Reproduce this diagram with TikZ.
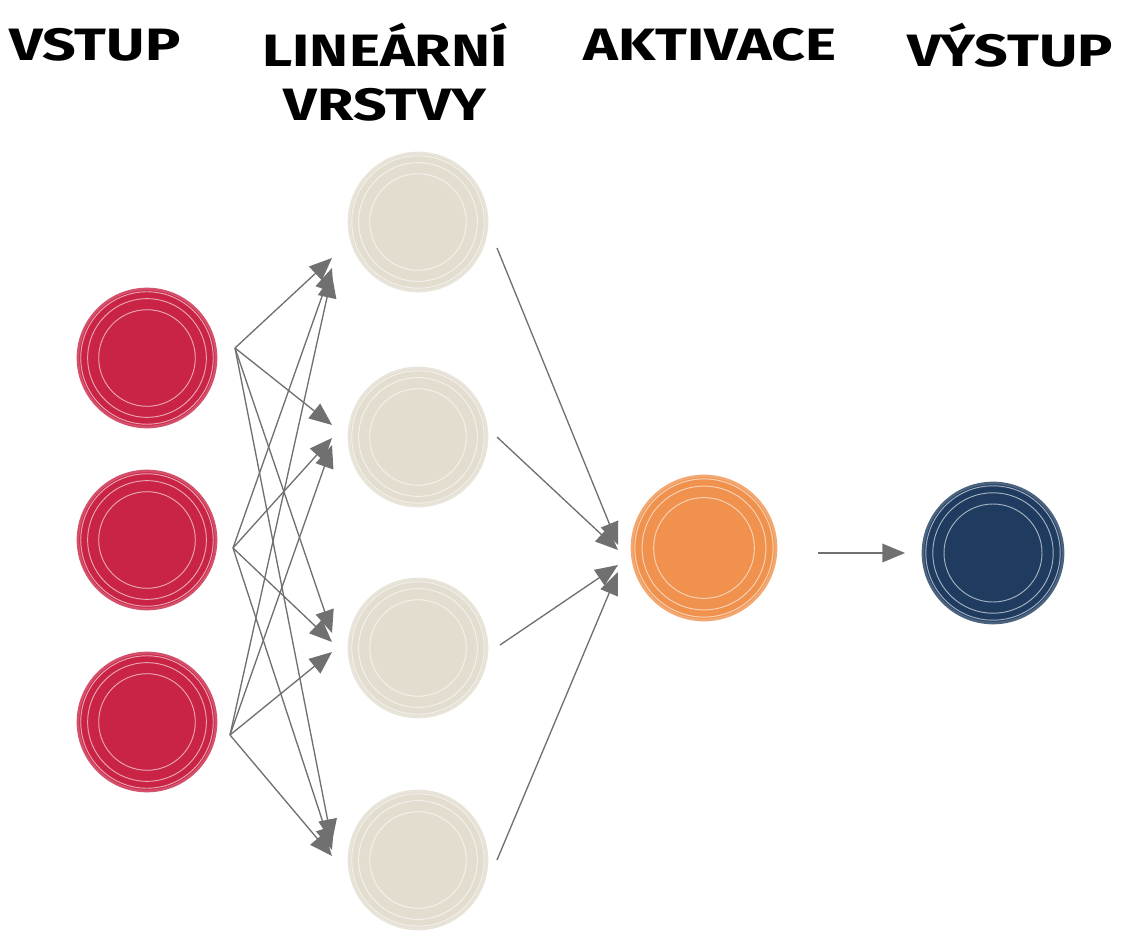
\documentclass[tikz,border=0pt]{standalone}
\usepackage{fontspec}
\setmainfont{Fira Sans}
\usetikzlibrary{arrows.meta}
\definecolor{cred}{HTML}{C92345}
\definecolor{cbeige}{HTML}{E2DDCF}
\definecolor{corange}{HTML}{F0924E}
\definecolor{cnavy}{HTML}{1F3C60}
\definecolor{cgray}{HTML}{707070}
\begin{document}
\begin{tikzpicture}[x=0.75pt,y=-0.75pt,
  neuron/.style={circle,minimum size=#1,inner sep=0pt},
  arr/.style={draw=cgray,line width=1pt,-{Triangle[length=17pt,width=14pt]}},
  lbl/.style={font=\fontsize{34}{40}\selectfont\bfseries,text=black,xscale=1.3,transform shape}]
\useasboundingbox (0,0) rectangle (1128,944);
\newcommand{\scrib}[4]{% name, pos, color, size(px)
  \node[neuron=#4*0.75pt,fill=#3,draw=#3!80!white,line width=2pt] (#1) at #2 {};
  \foreach \r in {0.96,0.86,0.7}{\draw[white,opacity=0.6,line width=0.7pt] #2 circle ({#4*\r/2});}
}
\scrib{i1}{(147,358)}{cred}{138}
\scrib{i2}{(147,540)}{cred}{138}
\scrib{i3}{(147,722)}{cred}{138}
\scrib{h1}{(418,222)}{cbeige}{138}
\scrib{h2}{(418,437)}{cbeige}{138}
\scrib{h3}{(418,648)}{cbeige}{138}
\scrib{h4}{(418,860)}{cbeige}{138}
\scrib{a}{(704,548)}{corange}{144}
\scrib{o}{(993,553)}{cnavy}{140}
\node[lbl] (t1) at (95,45) {VSTUP};
\node[lbl] (t2) at (385,45) {LINEÁRNÍ};
\node[lbl] (t3) at (385,105) {VRSTVY};
\node[lbl] (t4) at (710,45) {AKTIVACE};
\node[lbl] (t5) at (1010,45) {VÝSTUP};
\coordinate (s1) at (235,348);
\coordinate (s2) at (233,548);
\coordinate (s3) at (230,735);
\coordinate (e1a) at (332,258); \coordinate (e1b) at (332,268); \coordinate (e1c) at (332,275);
\coordinate (e2a) at (332,425); \coordinate (e2b) at (332,438); \coordinate (e2c) at (332,445);
\coordinate (e3a) at (332,633); \coordinate (e3b) at (332,642); \coordinate (e3c) at (332,652);
\coordinate (e4a) at (332,842); \coordinate (e4b) at (332,850); \coordinate (e4c) at (332,856);
\foreach \s/\l in {s1/a,s2/b,s3/c}{
  \foreach \e in {1,2,3,4}{\draw[arr] (\s) -- (e\e\l);}
}
\coordinate (f1) at (497,248);
\coordinate (f2) at (497,437);
\coordinate (f3) at (500,645);
\coordinate (f4) at (497,860);
\coordinate (g1) at (618,545); \coordinate (g2) at (618,550);
\coordinate (g3) at (618,565); \coordinate (g4) at (618,572);
\draw[arr] (f1) -- (g1);
\draw[arr] (f2) -- (g2);
\draw[arr] (f3) -- (g3);
\draw[arr] (f4) -- (g4);
\coordinate (p1) at (818,553);
\coordinate (p2) at (905,553);
\draw[arr] (p1) -- (p2);
\end{tikzpicture}
\end{document}
